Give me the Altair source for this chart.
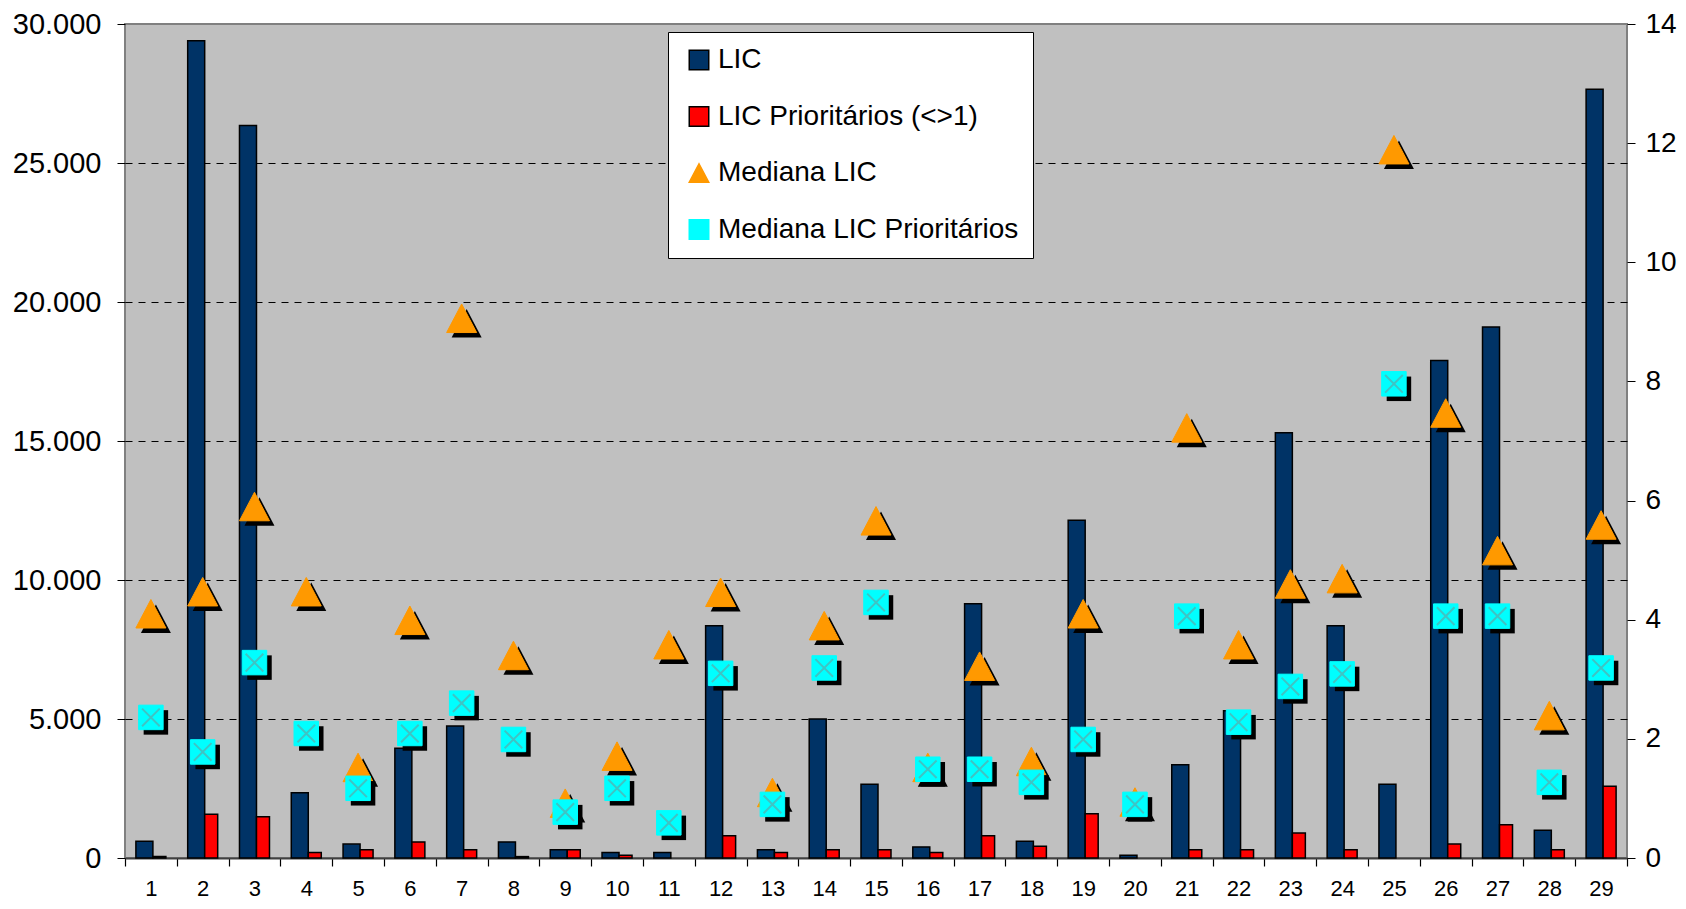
import altair as alt
import pandas as pd

cats = [str(i) for i in range(1, 30)]
series = ["LIC", "LIC Prioritários (<>1)", "Mediana LIC", "Mediana LIC Prioritários"]

lic = [600, 29400, 26350, 2350, 500, 3950, 4750, 580, 300, 200, 200, 8350, 300, 5000,
       2650, 400, 9150, 600, 12150, 100, 3350, 5300, 15300, 8350, 2650, 17900, 19100,
       1000, 27650]
lic_prio = [50, 1570, 1480, 200, 300, 580, 300, 50, 300, 100, 0, 800, 200, 300, 300,
            200, 800, 420, 1590, 0, 300, 300, 900, 300, 0, 500, 1200, 300, 2580]
med_lic = [4.1, 4.47, 5.9, 4.47, 1.52, 3.99, 9.06, 3.4, 0.92, 1.71, 3.58, 4.46, 1.1,
           3.9, 5.66, 1.52, 3.22, 1.62, 4.1, 0.94, 7.22, 3.58, 4.6, 4.69, 11.89, 7.47,
           5.16, 2.39, 5.59]
med_prio = [2.36, 1.78, 3.28, 2.09, 1.17, 2.09, 2.6, 1.99, 0.77, 1.17, 0.59, 3.1, 0.9,
            3.19, 4.29, 1.49, 1.49, 1.27, 1.99, 0.9, 4.06, 2.28, 2.88, 3.09, 7.96, 4.06,
            4.06, 1.27, 3.19]

left_ticks = [0, 5000, 10000, 15000, 20000, 25000, 30000]
right_ticks = [0, 2, 4, 6, 8, 10, 12, 14]

colors = ["#003366", "#FF0000", "#FF9900", "#00FFFF"]
strokes = ["#000000", "#000000", "#FF9900", "#00FFFF"]
TRI = "M0,-0.95L-1,0.95L1,0.95Z"
XPATH = "M-0.72,-0.72L0.72,0.72M0.72,-0.72L-0.72,0.72"
shapes = ["square", "square", TRI, "square"]

lic_df = pd.DataFrame({"cat": cats, "series": series[0], "value": lic})
prio_df = pd.DataFrame({"cat": cats, "series": series[1], "value": lic_prio})
prio_df = prio_df[prio_df["value"] > 0]
tri_df = pd.DataFrame({"cat": cats, "series": series[2], "value": med_lic})
sq_df = pd.DataFrame({"cat": cats, "series": series[3], "value": med_prio})

FONT = "Liberation Sans"

leg = alt.Legend(
    title=None, orient="none", legendX=543, legendY=8,
    fillColor="white", strokeColor="black", padding=14,
    labelFontSize=28, labelFont=FONT, labelColor="black", labelLimit=600,
    labelOffset=5, symbolOffset=3, symbolSize=380, symbolStrokeWidth=1.5,
    rowPadding=28.5,
)

color = alt.Color("series:N", scale=alt.Scale(domain=series, range=colors), legend=leg)
stroke = alt.Stroke("series:N", scale=alt.Scale(domain=series, range=strokes), legend=leg)
shape = alt.Shape("series:N", scale=alt.Scale(domain=series, range=shapes), legend=leg)

xenc = alt.X(
    "cat:O", sort=cats,
    scale=alt.Scale(type="band", paddingInner=0, paddingOuter=0),
    axis=alt.Axis(title=None, labelAngle=0, labelFontSize=22, labelFont=FONT,
                  labelColor="black", tickBand="extent", tickSize=8, tickColor="black",
                  tickWidth=1.2, domainColor="#404040", domainWidth=2, labelPadding=12),
)

yL = alt.Y(
    "value:Q", scale=alt.Scale(domain=[0, 30000], nice=False),
    axis=alt.Axis(title=None, values=left_ticks,
                  labelExpr="replace(format(datum.value, ','), ',', '.')",
                  grid=True, gridColor="black", gridDash=[7, 6], gridWidth=1,
                  gridOpacity={"condition": {"test": "datum.value === 0 || datum.value === 30000", "value": 0}, "value": 1},
                  tickSize=8, tickColor="black", domain=False,
                  labelFontSize=29, labelFont=FONT, labelColor="black", labelPadding=16),
)

yR = alt.Y(
    "value:Q", scale=alt.Scale(domain=[0, 14], nice=False),
    axis=alt.Axis(title=None, orient="right", values=right_ticks, grid=False,
                  tickSize=8, tickColor="black", domain=False,
                  labelFontSize=28, labelFont=FONT, labelColor="black", labelPadding=10),
)

bars_lic = alt.Chart(lic_df).mark_bar(strokeWidth=1.5, width=17, xOffset=-6.5).encode(
    x=xenc, y=yL, color=color, stroke=stroke)
bars_prio = alt.Chart(prio_df).mark_bar(strokeWidth=1.5, width=13, xOffset=8.5).encode(
    x=xenc, y=yL, color=color, stroke=stroke)

tri_sh = alt.Chart(tri_df).mark_point(
    shape=TRI, filled=True, size=900, color="black", opacity=1, xOffset=5, yOffset=5
).encode(x=xenc, y=yR)
tri = alt.Chart(tri_df).mark_point(filled=True, size=900, opacity=1, strokeWidth=1).encode(
    x=xenc, y=yR, color=color, shape=shape, stroke=stroke)

sq_sh = alt.Chart(sq_df).mark_point(
    shape="square", filled=True, size=600, color="black", opacity=1, xOffset=5, yOffset=5
).encode(x=xenc, y=yR)
sq = alt.Chart(sq_df).mark_point(filled=True, size=600, opacity=1, strokeWidth=1).encode(
    x=xenc, y=yR, color=color, shape=shape, stroke=stroke)
xs = alt.Chart(sq_df).mark_point(
    shape=XPATH, filled=False, size=600, color="#3FC4C4", strokeWidth=2, opacity=1
).encode(x=xenc, y=yR)

left = alt.layer(bars_lic, bars_prio)
right = alt.layer(tri_sh, tri, sq_sh, sq, xs)

chart = alt.layer(left, right).resolve_scale(y="independent").properties(
    width=1502, height=834,
    padding={"left": 117, "top": 16, "right": 51, "bottom": 42},
    autosize=alt.AutoSizeParams(type="none"),
).configure_view(fill="#C0C0C0", stroke="#808080", strokeWidth=2)

chart.save("out.html", embed_options={"renderer": "svg", "actions": False})
